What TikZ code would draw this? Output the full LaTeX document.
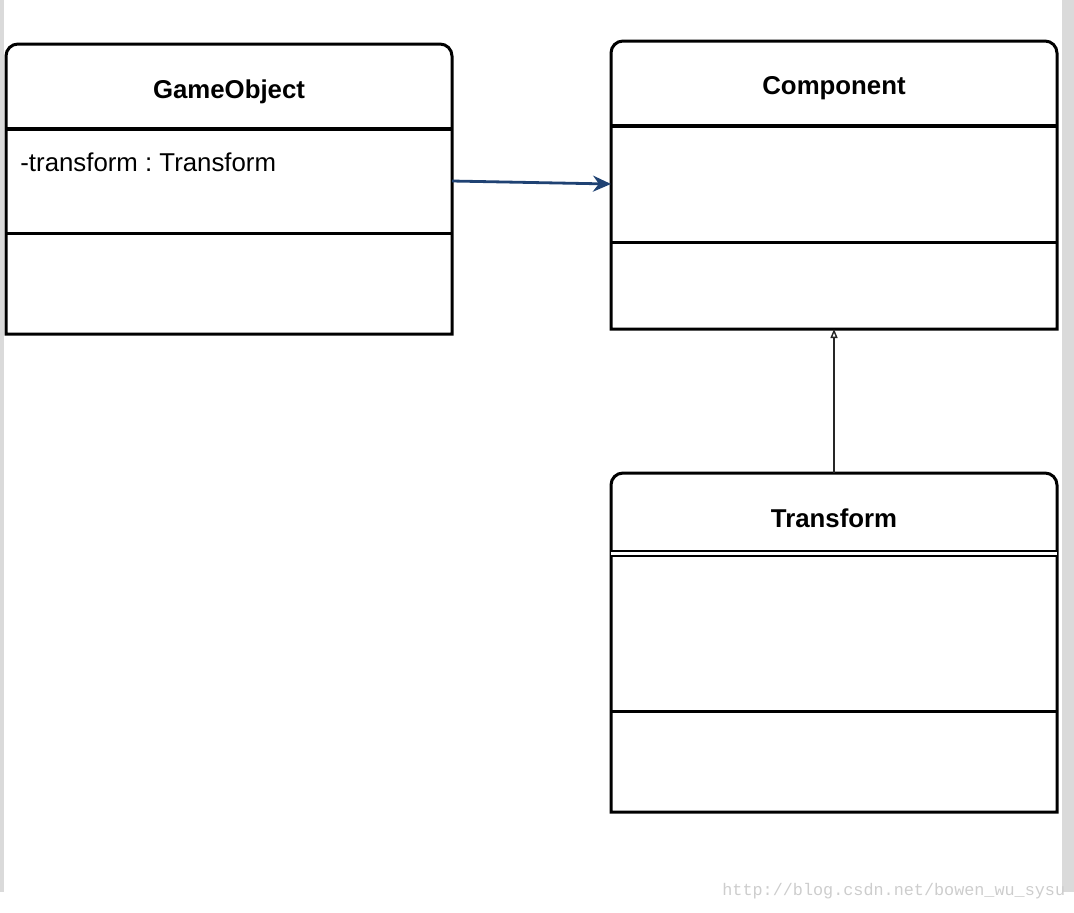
\documentclass[tikz,border=0pt]{standalone}
\usepackage{fontspec}
\setmainfont{Liberation Sans}
\newfontfamily\wmfont{Liberation Mono}
\usepackage{tikz}
\usetikzlibrary{arrows.meta,fit,positioning}
\usepackage{xcolor}
\frenchspacing
\definecolor{umlblue}{RGB}{31,66,115}
\definecolor{pagegray}{RGB}{218,218,218}
\definecolor{wmgray}{RGB}{205,205,205}
\tikzstyle{part} = [rectangle, inner sep=0pt, outer sep=0pt]
\tikzstyle{border} = [line width=1.5pt, color=black]
\tikzstyle{headline} = [line width=2.1pt, color=black]
\tikzstyle{classtitle} = [font=\fontsize{12.9}{15}\selectfont\bfseries, inner sep=0pt, yshift=-2.5pt]
\tikzstyle{member} = [font=\fontsize{12.9}{15}\selectfont, inner sep=0pt, anchor=west]
\tikzstyle{assoc} = [line width=1.4pt, color=umlblue, -{Stealth[length=9pt,width=8pt]}]
\tikzstyle{inherit} = [line width=0.7pt, color=black!85, -{Triangle[open,length=4.5pt,width=3.5pt]}]
\tikzstyle{watermark} = [font=\wmfont\fontsize{8.4}{10}\selectfont, text=wmgray, inner sep=0pt, anchor=west]

\begin{document}
\begin{tikzpicture}[x=0.5pt,y=-0.5pt]
\useasboundingbox (0,0) rectangle (1074,912);
\fill[pagegray] (0,0) rectangle (4,892);
\fill[pagegray] (1062,0) rectangle (1074,892);

% GameObject
\node[part, fit={(6,44) (452,129)}] (gohead) {};
\node[part, fit={(6,129) (452,233)}] (goattr) {};
\node[part, fit={(6,233) (452,334)}] (goops) {};
\draw[border] (goops.south east) -- (goops.south west) -- (gohead.west) [rounded corners=6pt] -- (gohead.north west) -- (gohead.north east) -- (gohead.east) [sharp corners] -- cycle;
\draw[headline] (gohead.south west) -- (gohead.south east);
\draw[border] (goops.north west) -- (goops.north east);
\node[classtitle] (gotitle) at (gohead) {GameObject};
\node[member] (gofield) at (20,162) {-transform : Transform};

% Component
\node[part, fit={(611,41) (1057,126)}] (comphead) {};
\node[part, fit={(611,126) (1057,242)}] (compattr) {};
\node[part, fit={(611,242) (1057,329)}] (compops) {};
\draw[border] (compops.south east) -- (compops.south west) -- (comphead.west) [rounded corners=6pt] -- (comphead.north west) -- (comphead.north east) -- (comphead.east) [sharp corners] -- cycle;
\draw[headline] (comphead.south west) -- (comphead.south east);
\draw[border] (compops.north west) -- (compops.north east);
\node[classtitle] (comptitle) at (comphead) {Component};

% Transform
\node[part, fit={(611,473) (1057,553.5)}] (tfhead) {};
\node[part, fit={(611,553.5) (1057,711)}] (tfattr) {};
\node[part, fit={(611,711) (1057,812)}] (tfops) {};
\draw[border] (tfops.south east) -- (tfops.south west) -- (tfhead.west) [rounded corners=6pt] -- (tfhead.north west) -- (tfhead.north east) -- (tfhead.east) [sharp corners] -- cycle;
\draw[double, line width=0.9pt, double distance=1.3pt] (tfhead.south west) -- (tfhead.south east);
\draw[border] (tfops.north west) -- (tfops.north east);
\node[classtitle] (tftitle) at (tfhead) {Transform};

% relations
\draw[assoc] (goattr.east) -- (compattr.west);
\draw[inherit] (tfhead.north) -- (compops.south);

\node[watermark] (wm) at (722,891) {http://blog.csdn.net/bowen\_wu\_sysu};
\end{tikzpicture}
\end{document}
